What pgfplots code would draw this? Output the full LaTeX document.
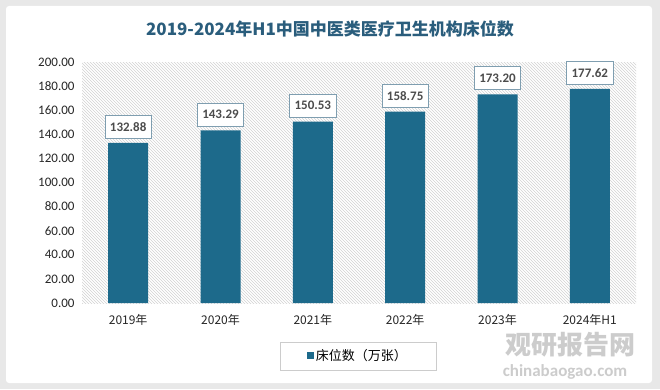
\documentclass[border=0pt]{standalone}
\usepackage{pgfplots}
\pgfplotsset{compat=1.18}
\usepackage{fontspec}
\setmainfont{Carlito}
\newfontfamily\cjk{Noto Sans CJK SC}
\usetikzlibrary{patterns}
\definecolor{barc}{HTML}{1D6A8B}
\definecolor{titlec}{HTML}{2A5D7C}
\begin{document}
\begin{tikzpicture}[x=1pt,y=1pt]
\fill[gray!18] (0,0) rectangle (660,389);
\fill[white,rounded corners=3pt] (6,6) rectangle (652,383);
\node[font=\cjk\bfseries\fontsize{17}{20}\selectfont, text=titlec] at (330,360) {2019-2024年H1中国中医类医疗卫生机构床位数};
\node[font=\cjk\bfseries\fontsize{26}{28}\selectfont, text=gray!40] at (570,44) {观研报告网};
\node[font=\bfseries\fontsize{17}{19}\selectfont, text=gray!40] at (565,17) {chinabaogao.com};
\begin{axis}[
  at={(82pt,86pt)}, anchor=south west,
  scale only axis, width=554pt, height=241pt,
  xmin=-0.5, xmax=5.5, ymin=0, ymax=200,
  ytick={0,20,...,200},
  yticklabel style={xshift=-4pt, /pgf/number format/.cd, fixed, fixed zerofill, precision=2, /tikz/.cd},
  /pgf/number format/assume math mode=true,
  ticklabel style={font=\fontsize{13}{15}\selectfont, text=black!85},
  xtick=data,
  xticklabels={2019年,2020年,2021年,2022年,2023年,2024年H1},
  xticklabel style={font=\cjk\fontsize{12}{14}\selectfont, yshift=-8pt},
  major tick length=0pt,
  axis line style={draw=none},
  axis background/.style={pattern=north west lines, pattern color=gray!35},
  ybar, bar width=40pt,
  nodes near coords,
  nodes near coords style={yshift=4pt, font=\bfseries\fontsize{13}{15}\selectfont, text=black!70, fill=white, draw=titlec!60, line width=0.8pt, inner xsep=5pt, inner ysep=4pt, minimum height=23pt, /pgf/number format/.cd, fixed, fixed zerofill, precision=2, /tikz/.cd},
  legend style={at={(0.498,-0.22)}, anchor=center, draw=gray!40, font=\cjk\fontsize{13}{15}\selectfont, inner xsep=27pt, inner ysep=6pt},
  legend image code/.code={\fill[barc] (0pt,-3pt) rectangle (7pt,4pt);},
]
\addplot[fill=barc, draw=none] coordinates {(0,132.88) (1,143.29) (2,150.53) (3,158.75) (4,173.20) (5,177.62)};
\addlegendentry{床位数（万张）}
\end{axis}
\end{tikzpicture}
\end{document}
